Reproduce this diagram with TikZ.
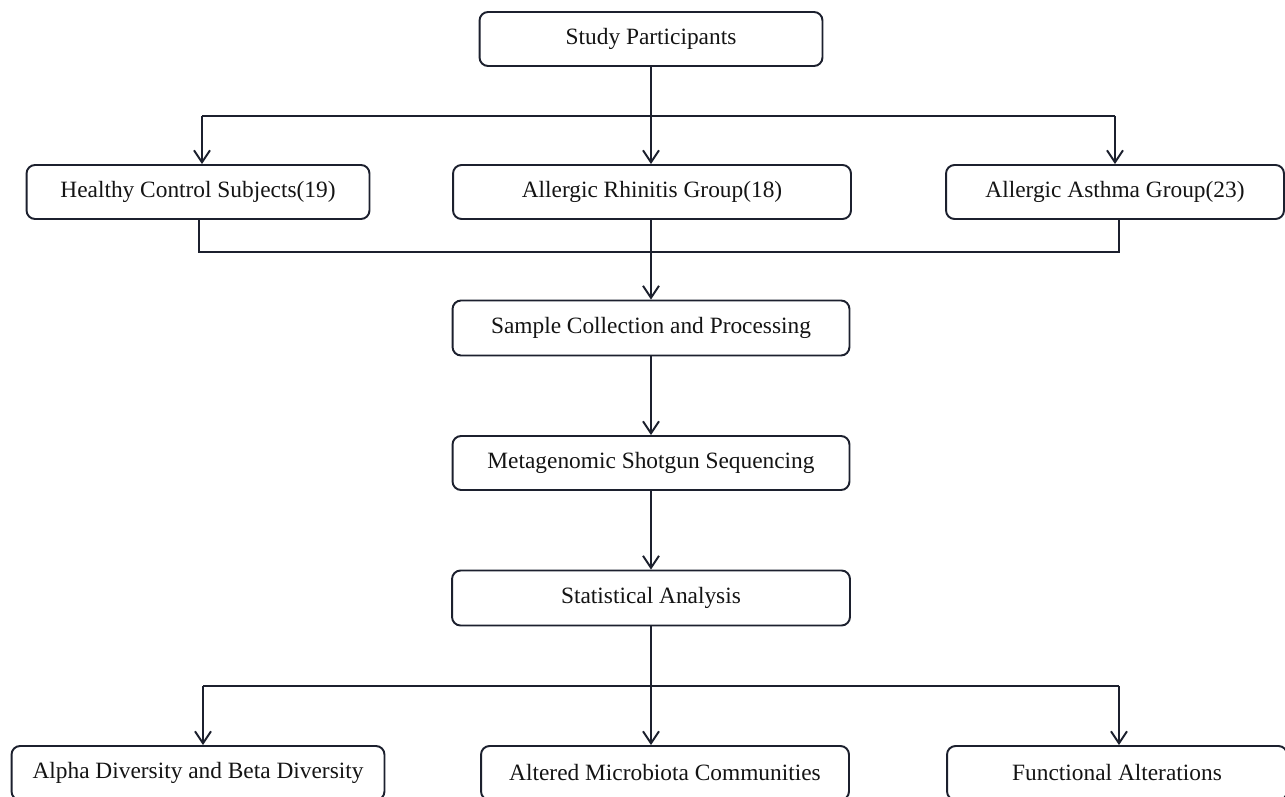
\documentclass[tikz,border=0pt]{standalone}
\usepackage{fontspec}
\setmainfont{Liberation Serif}
\usetikzlibrary{arrows.meta}
\definecolor{linec}{RGB}{28,32,46}
\definecolor{textc}{RGB}{20,20,20}
\tikzset{
  box/.style={draw=linec, line width=1.1pt, rounded corners=0.17cm, fill=white,
    minimum height=1.08cm, inner sep=0pt, text=textc,
    font=\fontsize{13.3}{16}\selectfont},
  conn/.style={draw=linec, line width=1.1pt},
  arr/.style={conn, -{Straight Barb[length=0.24cm, width=0.32cm, line width=1.1pt]}}
}
\begin{document}
\begin{tikzpicture}[x=0.02cm, y=-0.02cm]
\clip (0,0) rectangle (1285,797);
\fill[white] (0,0) rectangle (1285,797);

\node[box, minimum width=6.86cm] (sp) at (651,39) {Study Participants};
\node[box, minimum width=6.86cm] (hc) at (198,192) {Healthy Control Subjects(19)};
\node[box, minimum width=7.96cm] (ar) at (652,192) {Allergic Rhinitis Group(18)};
\node[box, minimum width=6.76cm] (aa) at (1115,192) {Allergic Asthma Group(23)};
\node[box, minimum width=7.94cm, minimum height=1.1cm] (sc) at (651,328) {Sample Collection and Processing};
\node[box, minimum width=7.94cm] (mg) at (651,463) {Metagenomic Shotgun Sequencing};
\node[box, minimum width=7.96cm, minimum height=1.1cm] (sa) at (651,598) {Statistical Analysis};
\node[box, minimum width=7.46cm] (ad) at (198,773) {Alpha Diversity and Beta Diversity};
\node[box, minimum width=7.36cm] (am) at (665,773) {Altered Microbiota Communities};
\node[box, minimum width=6.8cm] (fa) at (1117,773) {Functional Alterations};

% top branching
\coordinate (b1L) at (202,116);
\coordinate (b1R) at (1115,116);
\coordinate (b1M) at (651,116);
\draw[conn] (b1L) -- (b1R);
\draw[conn] (sp.south) -- (b1M);
\draw[arr] (b1M) -- (b1M |- ar.north);
\draw[arr] (b1L) -- (b1L |- hc.north);
\draw[arr] (b1R) -- (b1R |- aa.north);

% merge
\coordinate (m1L) at (199,252);
\coordinate (m1R) at (1119,252);
\coordinate (m1M) at (651,252);
\draw[conn] (m1L |- hc.south) -- (m1L) -- (m1R) -- (m1R |- aa.south);
\draw[conn] (m1M |- ar.south) -- (m1M);
\draw[arr] (m1M) -- (m1M |- sc.north);

% chain
\draw[arr] (sc.south) -- (sc.south |- mg.north);
\draw[arr] (mg.south) -- (mg.south |- sa.north);

% bottom branching
\coordinate (b2L) at (203,686);
\coordinate (b2R) at (1119,686);
\coordinate (b2M) at (651,686);
\draw[conn] (b2L) -- (b2R);
\draw[conn] (sa.south) -- (b2M);
\draw[arr] (b2M) -- (b2M |- am.north);
\draw[arr] (b2L) -- (b2L |- ad.north);
\draw[arr] (b2R) -- (b2R |- fa.north);
\end{tikzpicture}
\end{document}
